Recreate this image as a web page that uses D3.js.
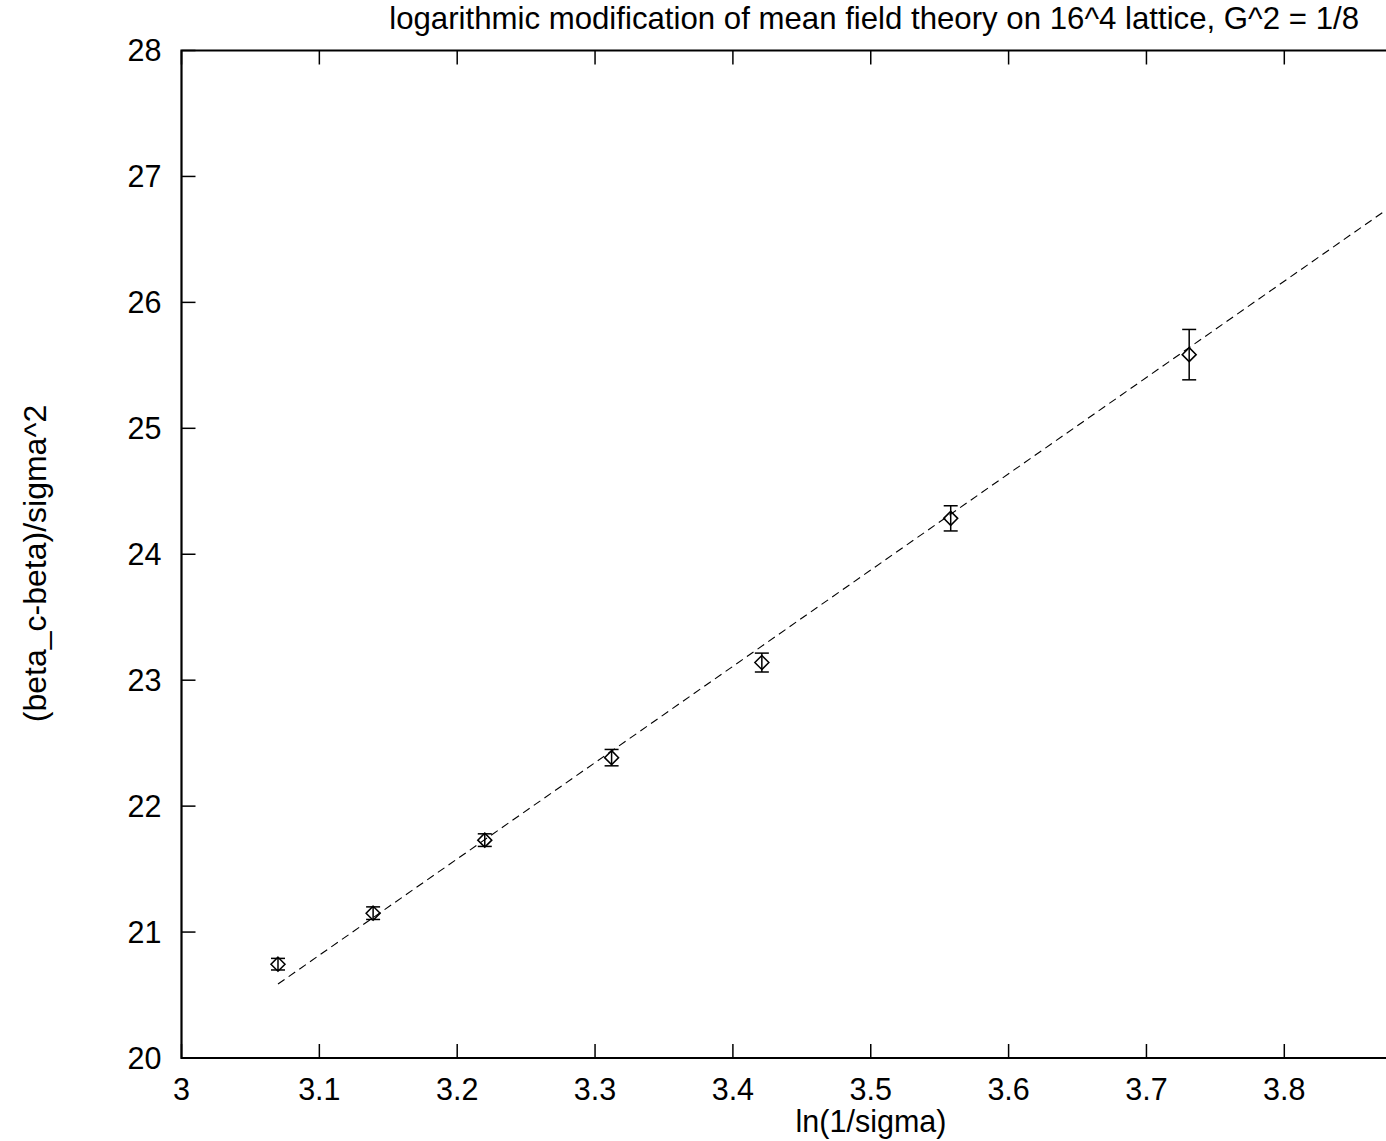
<!DOCTYPE html>
<html><head><meta charset="utf-8">
<script src="https://cdn.jsdelivr.net/npm/d3@7"></script>
<style>body{margin:0;background:#fff}svg{display:block}text{font-family:"Liberation Sans",Arial,sans-serif;fill:#000}</style>
</head><body>
<script>
const xVals = [3.070, 3.139, 3.220, 3.312, 3.421, 3.558, 3.731];
const yVals = [20.745, 21.15, 21.73, 22.385, 23.14, 24.285, 25.585];
const yErrs = [0.046, 0.05, 0.05, 0.065, 0.075, 0.10, 0.20];
const fitX = [3.070, 3.88];
const fitY = [20.587, 26.78];
const xTicks = [3, 3.1, 3.2, 3.3, 3.4, 3.5, 3.6, 3.7, 3.8];
const yTicks = [20, 21, 22, 23, 24, 25, 26, 27, 28];
const titleText = "logarithmic modification of mean field theory on 16^4 lattice, G^2 = 1/8";
const xLabel = "ln(1/sigma)";
const yLabel = "(beta_c-beta)/sigma^2";

const W = 1386, H = 1141;
const L = 181.5, T = 50.5, B = 1058;
const x = d3.scaleLinear().domain([3, 3.88]).range([L, L + 0.88 * 1378.5]);
const y = d3.scaleLinear().domain([20, 28]).range([B, T]);
const svg = d3.select("body").append("svg").attr("width", W).attr("height", H);

const fs = 30.5;
svg.append("path").attr("d", `M${x(3.88)},${T}H${L}V${B}H${x(3.88)}`).attr("fill","none").attr("stroke","#000").attr("stroke-width",2.2);

const tl = 14;
const g = svg.append("g");
xTicks.forEach(t => {
  g.append("line").attr("x1",x(t)).attr("x2",x(t)).attr("y1",B).attr("y2",B-tl).attr("stroke","#000").attr("stroke-width",1.5);
  g.append("line").attr("x1",x(t)).attr("x2",x(t)).attr("y1",T).attr("y2",T+tl).attr("stroke","#000").attr("stroke-width",1.5);
  g.append("text").attr("x",x(t)).attr("y",B+42).attr("text-anchor","middle").attr("font-size",fs).text(d3.format("")(t));
});
yTicks.forEach(t => {
  g.append("line").attr("x1",L).attr("x2",L+tl).attr("y1",y(t)).attr("y2",y(t)).attr("stroke","#000").attr("stroke-width",1.5);
  g.append("text").attr("x",L-20).attr("y",y(t)+10.5).attr("text-anchor","end").attr("font-size",fs).text(t);
});

svg.append("text").attr("x",1359).attr("y",29).attr("text-anchor","end").attr("font-size",31.2).text(titleText);
svg.append("text").attr("x",871).attr("y",1132).attr("text-anchor","middle").attr("font-size",fs).text(xLabel);
svg.append("text").attr("transform",`translate(46,563.5) rotate(-90)`).attr("text-anchor","middle").attr("font-size",32).text(yLabel);

svg.append("line").attr("x1",x(fitX[0])).attr("y1",y(fitY[0])).attr("x2",x(fitX[1])).attr("y2",y(fitY[1]))
  .attr("stroke","#000").attr("stroke-width",1.1).attr("stroke-dasharray","8,5");

const pts = xVals.map((v,i)=>({x:v,y:yVals[i],e:yErrs[i]}));
const pg = svg.append("g").attr("stroke","#000").attr("fill","none").attr("stroke-width",1.5);
pts.forEach(p => {
  const cx = x(p.x), cy = y(p.y), y1 = y(p.y+p.e), y2 = y(p.y-p.e);
  pg.append("line").attr("x1",cx).attr("x2",cx).attr("y1",y1).attr("y2",y2);
  pg.append("line").attr("x1",cx-7).attr("x2",cx+7).attr("y1",y1).attr("y2",y1);
  pg.append("line").attr("x1",cx-7).attr("x2",cx+7).attr("y1",y2).attr("y2",y2);
  pg.append("path").attr("d",`M${cx},${cy-7}L${cx+7},${cy}L${cx},${cy+7}L${cx-7},${cy}Z`);
});
</script>
</body></html>
